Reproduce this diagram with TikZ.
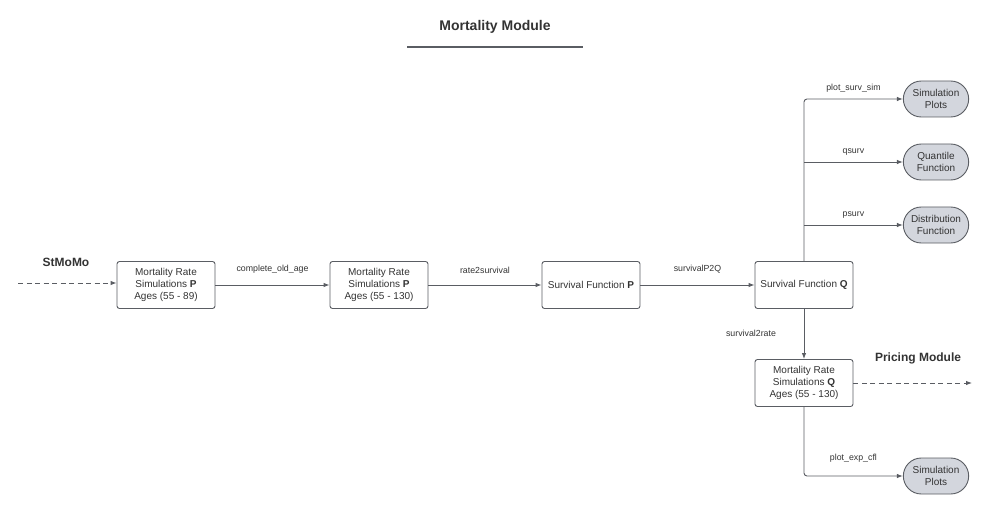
\documentclass[tikz,border=0pt]{standalone}
\usepackage{fontspec}
\setmainfont{Liberation Sans}
\usetikzlibrary{arrows.meta,shapes.misc}
\definecolor{linegray}{HTML}{5A5D63}
\definecolor{textgray}{HTML}{333333}
\definecolor{pillfill}{HTML}{D3D6DD}
\begin{document}
\begin{tikzpicture}[x=1pt,y=-1pt,
    every node/.style={text=textgray},
    conn/.style={draw=linegray,line width=0.9pt,-{Latex[length=6pt,width=4.5pt]}},
    dashconn/.style={conn,dash pattern=on 5pt off 3.5pt},
    flowbox/.style={draw=linegray,line width=0.9pt,rounded corners=2.5pt,
      minimum width=98pt,minimum height=47pt,align=center,font=\fontsize{10}{12.2}\selectfont},
    pill/.style={draw=linegray,line width=0.9pt,fill=pillfill,rounded rectangle,
      minimum width=72pt,minimum height=36pt,align=center,font=\fontsize{10}{12.2}\selectfont},
    fnlabel/.style={font=\fontsize{8.8}{10}\selectfont},
    heading/.style={font=\fontsize{12}{14}\selectfont\bfseries}]
    \useasboundingbox (0,0) rectangle (990,513);
    % title
    \node[heading,font=\fontsize{14}{16}\selectfont\bfseries] (title) at (495,27) {Mortality Module};
    \coordinate (ulA) at (407,47);
    \coordinate (ulB) at (583,47);
    \draw[linegray,line width=1.1pt] (ulA) -- (ulB);
    % main chain
    \node[heading] (stmomo) at (66,262) {StMoMo};
    \coordinate (start) at (18,283);
    \node[flowbox] (mrp) at (166,285) {Mortality Rate\\Simulations \textbf{P}\\Ages (55 - 89)};
    \node[flowbox] (mrpx) at (379,285) {Mortality Rate\\Simulations \textbf{P}\\Ages (55 - 130)};
    \node[flowbox] (sfp) at (591,285) {Survival Function \textbf{P}};
    \node[flowbox] (sfq) at (804,285) {Survival Function \textbf{Q}};
    \node[flowbox] (mrq) at (804,383) {Mortality Rate\\Simulations \textbf{Q}\\Ages (55 - 130)};
    % outputs
    \node[pill] (simplots) at (936,99) {Simulation\\Plots};
    \node[pill] (quantile) at (936,162) {Quantile\\Function};
    \node[pill] (distrib) at (936,225) {Distribution\\Function};
    \node[pill] (cflplots) at (936,476) {Simulation\\Plots};
    \node[heading] (pricing) at (918,358) {Pricing Module};
    \coordinate (pricingEnd) at (972,383);

    \draw[dashconn] (start) -- (mrp.west |- start);
    \draw[conn] (mrp) -- node[fnlabel,above=8pt] {complete\_old\_age} (mrpx);
    \draw[conn] (mrpx) -- node[fnlabel,above=8pt] {rate2survival} (sfp);
    \draw[conn] (sfp) -- node[fnlabel,above=8pt] {survivalP2Q} (sfq);
    \draw[conn,rounded corners=3pt] (sfq.north) |- node[fnlabel,pos=0.75,above=3pt] {plot\_surv\_sim} (simplots.west);
    \draw[conn] (sfq.north |- quantile.west) -- node[fnlabel,above=3pt] {qsurv} (quantile.west);
    \draw[conn] (sfq.north |- distrib.west) -- node[fnlabel,above=3pt] {psurv} (distrib.west);
    \draw[conn] (sfq) -- (mrq);
    \node[fnlabel] (s2r) at (751,333) {survival2rate};
    \draw[dashconn] (mrq) -- (pricingEnd);
    \draw[conn,rounded corners=3pt] (mrq.south) |- node[fnlabel,pos=0.75,above=10pt] {plot\_exp\_cfl} (cflplots.west);
\end{tikzpicture}
\end{document}
